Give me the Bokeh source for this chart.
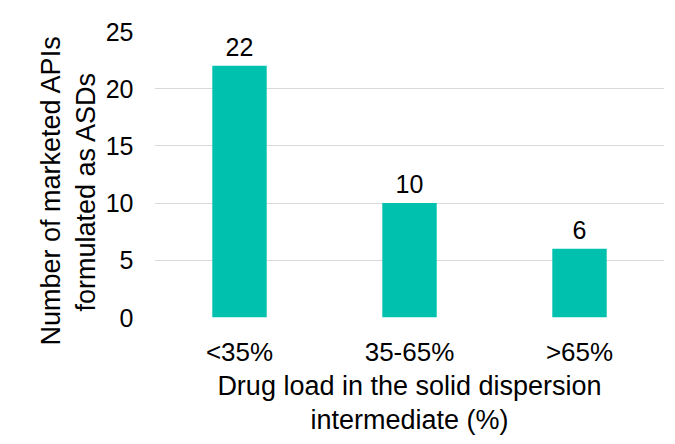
from bokeh.plotting import figure
from bokeh.models import ColumnDataSource, Range1d, LabelSet, FactorRange, Title
from bokeh.core.properties import value
from bokeh.embed import file_html
from bokeh.resources import INLINE

categories = ["<35%", "35-65%", ">65%"]
counts = [22, 10, 6]
y_ticks = [0, 5, 10, 15, 20, 25]
y_label_lines = ["Number of marketed APIs", "formulated as ASDs"]
x_label = "Drug load in the solid dispersion\nintermediate (%)"

FONT = "Liberation Sans"
BAR = "#00C1AE"

src = ColumnDataSource(dict(cat=categories, val=counts, lab=[str(v) for v in counts]))

p = figure(x_range=FactorRange(*categories), y_range=Range1d(0, 25),
           frame_width=510, frame_height=286,
           min_border_left=154, min_border_right=2, min_border_top=31, min_border_bottom=105,
           output_backend="svg", toolbar_location=None, background_fill_color="white",
           border_fill_color="white")
p.outline_line_color = None

p.vbar(x="cat", top="val", width=0.32, source=src, fill_color=BAR, line_color=None)

labels = LabelSet(x="cat", y="val", text="lab", source=src, text_align="center",
                  text_baseline="alphabetic", y_offset=10, text_font=value(FONT),
                  text_font_size=value("25px"), text_color="#000000")
p.add_layout(labels)

p.xgrid.grid_line_color = None
p.ygrid.grid_line_color = "#D9D9D9"
p.ygrid.grid_line_width = 1

p.yaxis.ticker = y_ticks
p.yaxis.axis_line_color = None
p.yaxis.major_tick_line_color = None
p.yaxis.minor_tick_line_color = None
p.yaxis.major_label_standoff = 15
p.yaxis.major_label_text_font = FONT
p.yaxis.major_label_text_font_size = "25px"
p.yaxis.major_label_text_color = "#000000"

p.xaxis.axis_line_color = None
p.xaxis.major_tick_line_color = None
p.xaxis.major_label_standoff = 13
p.xaxis.major_label_text_font = FONT
p.xaxis.major_label_text_font_size = "26px"
p.xaxis.major_label_text_color = "#000000"
p.xaxis.axis_label = x_label
p.xaxis.axis_label_text_font = FONT
p.xaxis.axis_label_text_font_size = "27px"
p.xaxis.axis_label_text_font_style = "normal"
p.xaxis.axis_label_text_color = "#000000"
p.xaxis.axis_label_text_line_height = 1.15
p.xaxis.axis_label_standoff = 1

t2 = Title(text=y_label_lines[1], align="left", offset=6, standoff=3,
           text_font=FONT, text_font_size="27px", text_font_style="normal",
           text_color="#000000")
t1 = Title(text=y_label_lines[0], align="left", offset=-28, standoff=3,
           text_font=FONT, text_font_size="27px", text_font_style="normal",
           text_color="#000000")
p.add_layout(t2, "left")
p.add_layout(t1, "left")

open("out.html", "w").write(file_html(p, INLINE))
